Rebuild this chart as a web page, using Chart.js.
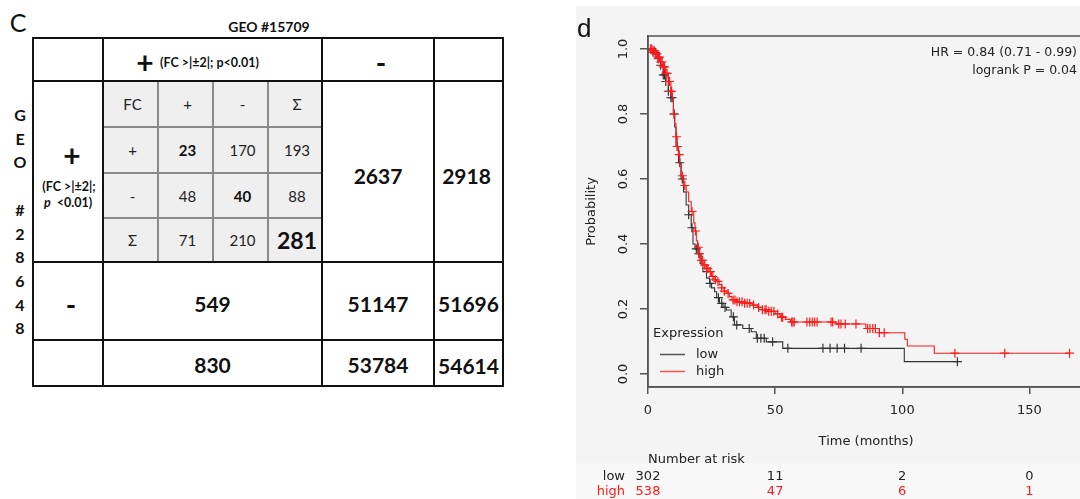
<!DOCTYPE html>
<html>
<head>
<meta charset="utf-8">
<script src="https://cdn.jsdelivr.net/npm/chart.js@4/dist/chart.umd.min.js"></script>
<style>
html, body { margin: 0; padding: 0; background: #fff; width: 1080px; height: 499px; overflow: hidden; position: relative; font-family: Lato, sans-serif; color: #111; }
.t { position: absolute; transform: translate(-50%, -50%); line-height: 1; white-space: nowrap; }
.ln { position: absolute; background: #111; }
.gl { position: absolute; background: #8a8a8a; }
#km { position: absolute; left: 576px; top: 6px; background: #f4f4f4; }
#lblD { position: absolute; left: 577px; top: 15px; font: 26px "Liberation Sans", Arial, sans-serif; line-height: 1; }
</style>
</head>
<body>
<div id="tbl"></div>
<canvas id="km" width="514" height="493"></canvas>
<div id="lblD">d</div>
<script>
// panel c: contingency table
const topTitle = 'GEO #15709';
const sideTitle = 'GEO #28648';
const innerHead = ['FC', '+', '-', 'Σ'];
const innerLabels = ['+', '-', 'Σ'];
const innerCounts = [[23, 170, 193], [48, 40, 88], [71, 210, 281]];
const colMinus = [2637, 51147, 53784];
const colTotal = [2918, 51696, 54614];
const rowMinusPlus = [549, 830];

// panel d: Kaplan-Meier
const xTicks = [0, 50, 100, 150];
const yTicks = [0, 0.2, 0.4, 0.6, 0.8, 1.0];
const highTime = [0, 2, 3, 4, 5, 6, 7, 8, 9, 9.5, 10, 10.5, 11, 11.5, 12, 12.5, 13, 14, 15, 16, 17, 18, 18.5, 19, 19.5, 20, 21, 22, 23, 24, 25, 26, 27, 28, 29, 30, 31, 32, 33, 35, 38, 41, 43, 45, 47, 50, 52, 54, 56, 74, 85.7, 91, 101, 102, 112.6, 165.8];
const highSurv = [1, 0.995, 0.985, 0.975, 0.96, 0.945, 0.925, 0.9, 0.87, 0.85, 0.8, 0.77, 0.73, 0.7, 0.675, 0.645, 0.61, 0.58, 0.56, 0.53, 0.5, 0.465, 0.44, 0.41, 0.39, 0.37, 0.35, 0.335, 0.325, 0.315, 0.3, 0.29, 0.285, 0.275, 0.265, 0.255, 0.248, 0.238, 0.228, 0.222, 0.218, 0.212, 0.205, 0.198, 0.193, 0.185, 0.175, 0.168, 0.16, 0.154, 0.14, 0.127, 0.107, 0.086, 0.064, 0.064];
const lowTime = [0, 2, 4, 5, 6, 7, 8, 9, 10, 10.5, 11, 12, 13, 14, 15, 16, 17, 17.7, 18.5, 19.6, 20.5, 21.6, 23, 24.2, 25, 26.2, 27, 28.1, 29.5, 30.8, 32.7, 34, 37.3, 40.6, 42.6, 46.5, 53, 100.8, 121.7];
const lowSurv = [1, 0.99, 0.97, 0.95, 0.92, 0.9, 0.87, 0.85, 0.8, 0.76, 0.7, 0.65, 0.6, 0.56, 0.52, 0.49, 0.45, 0.4, 0.385, 0.37, 0.34, 0.315, 0.295, 0.279, 0.265, 0.253, 0.235, 0.2175, 0.205, 0.197, 0.176, 0.151, 0.14, 0.13, 0.11, 0.099, 0.079, 0.038, 0.038];
const highCensor = [1, 1.5, 2, 2.5, 3, 3.5, 4, 4.5, 5, 5.5, 6, 6.5, 7, 7.5, 8, 8.5, 9, 9.3, 10.2, 11.2, 11.6, 12.3, 13.5, 14.5, 17.3, 18.7, 19.8, 20.3, 21, 21.5, 22.3, 23, 23.5, 24.5, 25.5, 26.5, 27.5, 29, 30, 31.5, 33.5, 34.2, 35, 36, 37, 38, 39, 40, 41.5, 43.5, 45, 46, 46.5, 47.5, 48.5, 49.5, 51, 52.5, 53, 56.5, 57, 57.5, 62.5, 63.6, 64.6, 65.5, 66.5, 72, 72.6, 75, 75.9, 77.6, 81.8, 86.4, 87.3, 88.4, 89.4, 91, 92.9, 120.7, 140.3, 165.8];
const lowCensor = [1, 2, 3, 4, 5, 6, 6.5, 7, 8, 9, 9.5, 10.3, 11.5, 12.5, 13.5, 16, 17.3, 19, 20, 24.4, 27.7, 29, 30.3, 33.6, 34.9, 39.8, 43, 44.4, 45.7, 49, 55, 68.8, 71.6, 74.4, 77.3, 83.8, 121.7];
const riskLow = [302, 11, 2, 0];
const riskHigh = [538, 47, 6, 1];

const RED = '#ff1a1a';
const DARK = '#333';

// ---- table ----
const tbl = document.getElementById('tbl');
const colX = [33, 103, 322, 434, 503];
const rowY = [38, 81, 262, 340, 386];
const inX = [103, 158, 213, 268, 322];
const inY = [81, 127, 173, 218, 262];

function el(cls, css, html) {
  const d = document.createElement('div');
  d.className = cls;
  d.style.cssText = css;
  if (html !== undefined) d.innerHTML = html;
  tbl.appendChild(d);
  return d;
}
function txt(cx, cy, html, css) {
  return el('t', `left:${cx}px;top:${cy}px;${css || ''}`, html);
}
const mid = (a, b) => (a + b) / 2;

// inner shaded block
el('', `position:absolute;left:${inX[0]}px;top:${inY[0]}px;width:${inX[4] - inX[0]}px;height:${inY[4] - inY[0]}px;background:#efefef;`);
for (let i = 1; i < 4; i++) {
  el('gl', `left:${inX[i] - 1}px;top:${inY[0]}px;width:1.5px;height:${inY[4] - inY[0]}px;`);
  el('gl', `left:${inX[0]}px;top:${inY[i] - 1}px;width:${inX[4] - inX[0]}px;height:1.5px;`);
}
// main grid
colX.forEach(x => el('ln', `left:${x - 1}px;top:${rowY[0] - 1}px;width:2px;height:${rowY[4] - rowY[0] + 2}px;`));
rowY.forEach(y => el('ln', `left:${colX[0] - 1}px;top:${y - 1}px;width:${colX[4] - colX[0] + 2}px;height:2px;`));

txt(18, 22, 'C', 'font-size:25px;');
txt(269, 27, topTitle, 'font-size:14px;font-weight:bold;');

// header row
txt(145, 62, '+', 'font-size:30px;font-weight:bold;');
el('t', 'left:160px;top:63px;transform:translate(0,-50%);font-size:12.5px;font-weight:bold;', '(FC &gt;|±2|; p&lt;0.01)');
txt(381, 62, '-', 'font-size:28px;font-weight:bold;');

// side label
let sy = 115;
for (const ch of sideTitle) {
  if (ch !== ' ') txt(20, sy, ch, 'font-size:16px;font-weight:bold;');
  sy += 23.7;
}

txt(72, 155, '+', 'font-size:30px;font-weight:bold;');
txt(69, 187, '(FC &gt;|±2|;', 'font-size:12.5px;font-weight:bold;');
txt(68, 203, '<i>p</i> &nbsp;&lt;0.01)', 'font-size:12.5px;font-weight:bold;');

// inner 2x2 with margins
innerHead.forEach((h, j) => txt(mid(inX[j], inX[j + 1]) + 2, mid(inY[0], inY[1]), h, 'font-size:15px;color:#222;'));
innerLabels.forEach((lab, i) => {
  const cy = mid(inY[i + 1], inY[i + 2]);
  txt(mid(inX[0], inX[1]) + 2, cy, lab, 'font-size:15px;color:#222;');
  innerCounts[i].forEach((v, j) => {
    let css = 'font-size:15px;color:#222;';
    if (i === j) css = 'font-size:15px;font-weight:bold;';
    if (i === 2 && j === 2) css = 'font-size:23px;font-weight:bold;';
    txt(mid(inX[j + 1], inX[j + 2]) + 2, cy, v, css);
  });
});

const big = 'font-size:21px;font-weight:bold;';
txt(mid(colX[2], colX[3]), 175, colMinus[0], big);
txt(mid(colX[3], colX[4]) - 2, 175, colTotal[0], big);
txt(71, 304, '-', 'font-size:28px;font-weight:bold;');
txt(mid(colX[1], colX[2]), 303, rowMinusPlus[0], big);
txt(mid(colX[2], colX[3]), 303, colMinus[1], big);
txt(mid(colX[3], colX[4]), 303, colTotal[1], big);
txt(mid(colX[1], colX[2]), 364, rowMinusPlus[1], big);
txt(mid(colX[2], colX[3]), 364, colMinus[2], big);
txt(mid(colX[3], colX[4]), 365, colTotal[2], big);

// ---- KM plot ----
function stepAt(times, surv, t) {
  let v = surv[0];
  for (let i = 0; i < times.length; i++) if (times[i] <= t) v = surv[i];
  return v;
}
const curve = (times, surv) => times.map((t, i) => ({ x: t, y: surv[i] }));
const marks = (cens, times, surv) => cens.map(t => ({ x: t, y: stepAt(times, surv, t) }));

const kmDecor = {
  id: 'kmDecor',
  beforeDraw(c) {
    const g = c.ctx;
    g.save();
    g.fillStyle = '#f8f8f8';
    g.fillRect(0, 457, c.width, c.height - 457);
    g.restore();
  },
  afterDraw(c) {
    const g = c.ctx, a = c.chartArea, xs = c.scales.x, ys = c.scales.y;
    g.save();
    g.strokeStyle = '#555';
    g.lineWidth = 1.5;
    g.strokeRect(a.left, a.top, a.right - a.left, a.bottom - a.top);

    g.fillStyle = '#222';
    g.font = '13px "DejaVu Sans"';
    g.textAlign = 'center';
    g.textBaseline = 'middle';
    yTicks.forEach(v => {
      g.save();
      g.translate(48, ys.getPixelForValue(v));
      g.rotate(-Math.PI / 2);
      g.fillText(v.toFixed(1), 0, 0);
      g.restore();
    });
    g.save();
    g.translate(16, (a.top + a.bottom) / 2);
    g.rotate(-Math.PI / 2);
    g.fillText('Probability', 0, 0);
    g.restore();

    g.fillText('Time (months)', (a.left + a.right) / 2, 436);

    g.textAlign = 'right';
    g.font = '12.5px "DejaVu Sans"';
    g.fillText('HR = 0.84 (0.71 - 0.99)', 501, 47);
    g.fillText('logrank P = 0.04', 501, 64.5);

    // legend
    g.font = '13px "DejaVu Sans"';
    g.textAlign = 'left';
    g.fillText('Expression', 77, 328);
    [['low', '#555', 348.5], ['high', '#ff5050', 365.5]].forEach(([lab, col, y]) => {
      g.strokeStyle = col;
      g.lineWidth = 1.5;
      g.beginPath();
      g.moveTo(84, y);
      g.lineTo(109, y);
      g.stroke();
      g.fillStyle = '#222';
      g.fillText(lab, 120, y);
    });

    // number at risk
    g.fillText('Number at risk', 72, 454);
    g.textAlign = 'right';
    g.fillStyle = '#222';
    g.fillText('low', 49, 470.5);
    g.fillStyle = RED;
    g.fillText('high', 49, 485.5);
    g.textAlign = 'center';
    xTicks.forEach((t, i) => {
      const x = xs.getPixelForValue(t);
      g.fillStyle = '#222';
      g.fillText(riskLow[i], x, 470.5);
      g.fillStyle = RED;
      g.fillText(riskHigh[i], x, 485.5);
    });
    g.restore();
  }
};

new Chart(document.getElementById('km'), {
  type: 'line',
  data: {
    datasets: [
      { label: 'high', data: curve(highTime, highSurv), borderColor: RED, borderWidth: 1.1, stepped: true, pointRadius: 0, fill: false },
      { label: 'high censored', data: marks(highCensor, highTime, highSurv), showLine: false, pointStyle: 'cross', pointRadius: 4.5, borderColor: RED, borderWidth: 1.2 },
      { label: 'low', data: curve(lowTime, lowSurv), borderColor: DARK, borderWidth: 1.1, stepped: true, pointRadius: 0, fill: false },
      { label: 'low censored', data: marks(lowCensor, lowTime, lowSurv), showLine: false, pointStyle: 'cross', pointRadius: 4.5, borderColor: DARK, borderWidth: 1.2 }
    ]
  },
  options: {
    responsive: false,
    animation: false,
    layout: { padding: { top: 30, right: 5, left: 0, bottom: 0 } },
    plugins: { legend: { display: false }, tooltip: { enabled: false } },
    scales: {
      x: {
        type: 'linear', min: 0, max: 171.6,
        afterBuildTicks: s => { s.ticks = xTicks.map(v => ({ value: v })); },
        afterFit: s => { s.height = 112; },
        grid: { drawOnChartArea: false, drawTicks: true, tickLength: 7, color: '#555', lineWidth: 1.5 },
        border: { display: true, color: '#555', width: 1.5 },
        ticks: { color: '#222', font: { family: 'DejaVu Sans', size: 13 }, padding: 9, maxRotation: 0 }
      },
      y: {
        type: 'linear', min: -0.04, max: 1.04,
        afterBuildTicks: s => { s.ticks = yTicks.map(v => ({ value: v })); },
        afterFit: s => { s.width = 72; },
        grid: { drawOnChartArea: false, drawTicks: true, tickLength: 8, color: '#555', lineWidth: 1.5 },
        border: { display: true, color: '#555', width: 1.5 },
        ticks: { display: false }
      }
    }
  },
  plugins: [kmDecor]
});
</script>
</body>
</html>
